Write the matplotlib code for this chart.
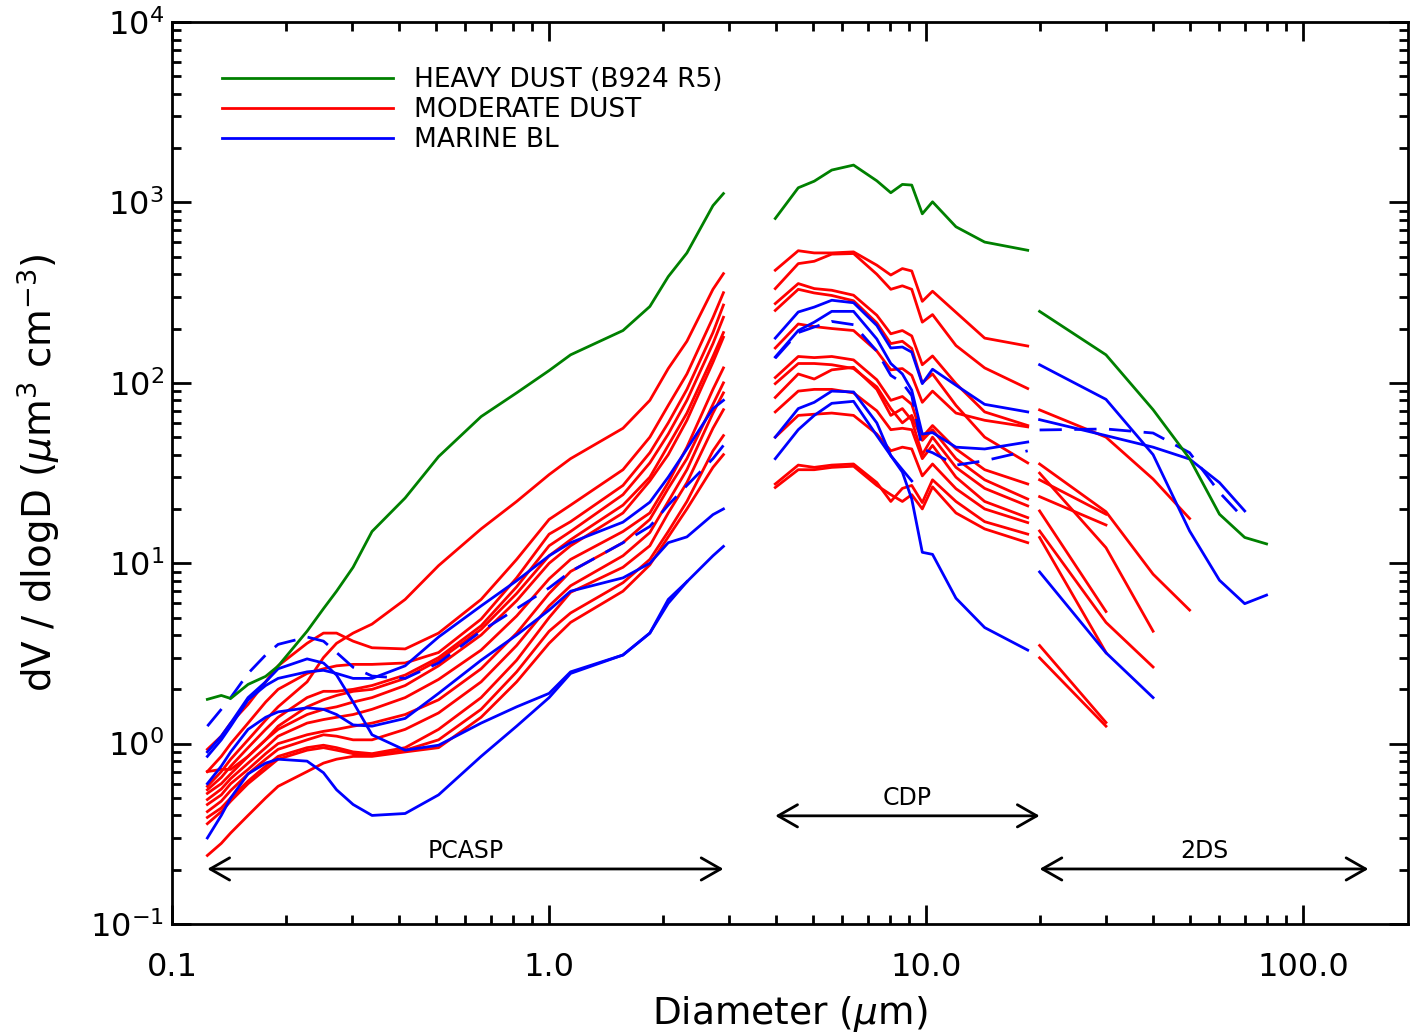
import numpy as np
import matplotlib.pyplot as plt
from matplotlib.lines import Line2D
from matplotlib.ticker import FixedLocator, FixedFormatter, LogLocator, NullFormatter

nan = np.nan
GREEN = '#008000'
RED = '#ff0000'
BLUE = '#0000ff'

# ---- PCASP (0.12 - 3 um) ----
pcasp_d = [0.124, 0.135, 0.143, 0.159, 0.177, 0.191, 0.228, 0.252, 0.273, 0.302, 0.339, 0.415,
           0.509, 0.66, 0.82, 1.0, 1.14, 1.57, 1.85, 2.07, 2.32, 2.72, 2.9]
pcasp_heavy = [1.76, 1.85, 1.78, 2.13, 2.36, 2.69, 4.2, 5.6, 7.0, 9.5, 15, 23,
               39, 65, 88, 117, 143, 195, 265, 388, 525, 960, 1120]
pcasp_moderate = [
    [0.58, 0.7, 0.82, 1.05, 1.35, 1.6, 2.2, 3.0, 3.6, 4.1, 4.6, 6.3, 9.7, 15.5, 22, 31, 38, 56, 80, 120, 170, 330, 403],
    [0.93, 1.1, 1.3, 1.65, 2.2, 2.7, 3.6, 4.1, 4.1, 3.7, 3.4, 3.35, 4.1, 6.3, 10.5, 17.5, 21, 33, 50, 75, 112, 230, 316],
    [0.70, 0.85, 1.0, 1.3, 1.7, 2.0, 2.45, 2.6, 2.7, 2.75, 2.75, 2.8, 3.2, 4.9, 8.3, 14.5, 17, 27, 41, 60, 92, 190, 270],
    [0.555, 0.65, 0.75, 0.95, 1.2, 1.4, 1.8, 1.95, 1.95, 2.0, 2.1, 2.4, 3.0, 4.5, 7.4, 12.5, 15, 24, 36, 52, 80, 165, 231],
    [0.70, 0.72, 0.72, 0.85, 1.05, 1.25, 1.6, 1.75, 1.85, 1.95, 2.0, 2.3, 2.9, 4.3, 6.8, 11, 13.5, 21, 30, 45, 68, 140, 190],
    [0.53, 0.6, 0.68, 0.85, 1.05, 1.2, 1.45, 1.55, 1.6, 1.7, 1.8, 2.1, 2.7, 4.0, 6.2, 10, 12.5, 19, 28.6, 40, 62, 130, 179],
    [0.49, 0.56, 0.64, 0.78, 0.95, 1.1, 1.3, 1.36, 1.4, 1.45, 1.55, 1.8, 2.27, 3.3, 5.1, 8.2, 10.5, 15, 19, 28, 44, 92, 121],
    [0.46, 0.52, 0.6, 0.72, 0.88, 1.0, 1.12, 1.17, 1.2, 1.25, 1.3, 1.45, 1.75, 2.6, 4.1, 6.8, 9, 13, 17.5, 26, 38, 76, 100],
    [0.42, 0.48, 0.55, 0.68, 0.82, 0.93, 1.05, 1.12, 1.1, 1.05, 1.05, 1.2, 1.48, 2.2, 3.5, 5.8, 7.5, 11, 14.8, 22, 33, 68, 88],
    [0.39, 0.44, 0.5, 0.62, 0.75, 0.85, 0.95, 0.98, 0.95, 0.9, 0.88, 0.95, 1.2, 1.8, 2.9, 5.0, 6.9, 9.5, 12.5, 19, 28, 56, 71],
    [0.36, 0.42, 0.48, 0.6, 0.72, 0.82, 0.92, 0.95, 0.92, 0.88, 0.86, 0.92, 1.05, 1.55, 2.5, 4.2, 5.3, 7.8, 10.5, 15, 22, 42, 51],
    [0.24, 0.28, 0.32, 0.4, 0.5, 0.58, 0.7, 0.78, 0.82, 0.85, 0.85, 0.9, 0.95, 1.4, 2.2, 3.6, 4.7, 7, 9.8, 14, 20, 34, 40],
]
pcasp_marine = [
    [0.9, 1.1, 1.3, 1.8, 2.2, 2.6, 2.95, 2.8, 2.4, 1.7, 1.12, 0.92, 0.98, 1.3, 1.6, 1.9, 2.5, 3.1, 4.1, 6.0, 7.9, nan, nan],
    [0.85, 1.05, 1.25, 1.75, 2.1, 2.3, 2.5, 2.55, 2.45, 2.3, 2.3, 2.7, 3.9, 5.8, 8.0, 11, 13, 16.9, 21.8, 30, 43, 72, 80],
    [0.6, 0.75, 0.9, 1.2, 1.4, 1.5, 1.58, 1.55, 1.45, 1.27, 1.25, 1.38, 1.9, 2.9, 4.0, 5.5, 7.0, 8.3, 10, 13, 14, 18.6, 20],
    [0.3, 0.4, 0.5, 0.68, 0.78, 0.82, 0.8, 0.69, 0.555, 0.46, 0.40, 0.41, 0.52, 0.85, 1.25, 1.8, 2.45, 3.1, 4.1, 6.3, 7.9, 11, 12.4],
]
pcasp_marine_mean = [1.25, 1.55, 1.8, 2.45, 3.1, 3.55, 3.9, 3.7, 3.2, 2.65, 2.37, 2.3,
                     2.8, 4.2, 5.6, 7.3, 9.0, 13, 16, 21, 27, 38, 45]

# ---- CDP (4 - 19 um) ----
cdp_d = [3.98, 4.58, 5.05, 5.62, 6.42, 7.40, 8.06, 8.65, 9.16, 9.77, 10.4, 12.0, 14.3, 18.6]
cdp_heavy = [815, 1206, 1312, 1512, 1611, 1318, 1132, 1259, 1248, 865, 1008, 733, 603, 543]
cdp_moderate = [
    [421, 540, 525, 525, 532, 449, 396, 430, 417, 283, 322, 246, 177, 160],
    [333, 458, 472, 517, 521, 400, 330, 345, 330, 217, 239, 161, 121, 93],
    [275, 355, 333, 326, 306, 237, 187, 195, 182, 126, 141, 99, 69, 58],
    [252, 330, 315, 305, 285, 215, 165, 170, 155, 100, 112, 75, 50, 36],
    [156, 212, 205, 200, 195, 150, 118, 120, 110, 78, 90, 68, 62, 57],
    [107, 140, 138, 140, 134, 104, 80, 84, 76, 50, 58, 43, 33, 27.5],
    [99, 128, 128, 126, 120, 95, 72, 60, 66, 48, 55, 38, 29, 22.7],
    [83, 112, 105, 118, 122, 92, 66, 72, 62, 40, 50, 34, 26, 20.8],
    [69, 90, 92, 92, 88, 70, 55, 56, 55, 38, 45, 30, 22, 17.9],
    [50, 66, 67, 68, 66, 52, 42, 44, 43, 30.5, 35.5, 25.9, 20, 16.8],
    [27.5, 35, 34, 35, 35.5, 28, 22, 26, 27, 21.7, 29, 22, 17, 14.5],
    [26.3, 33, 33, 34, 34.5, 27, 24, 22, 24, 20, 26.5, 19, 15.5, 13],
]
cdp_marine = [
    [177, 247, 263, 287, 278, 208, 156, 158, 148, 99, 119, 97, 76, 69],
    [139, 195, 217, 249, 249, 175, 128, 112, 91, 52, 53, 44, 43, 47],
    [50, 72, 78, 90, 89, 60, 39.5, 32, 22.7, 11.5, 11.2, 6.4, 4.4, 3.3],
    [38, 55, 66, 77, 79, 51, 39.5, 33, 28.6, nan, nan, nan, nan, nan],
]
cdp_marine_mean = [137, 190, 204, 219, 210, 150, 110, 100, 85, 43, 41, 35, 37, 42]

# ---- 2DS (20 - 80 um) ----
tds_d = [20, 30, 40, 50, 60, 70, 80]
tds_heavy = [249, 143, 71, 38, 18.7, 13.9, 12.8]
tds_moderate = [
    [70.8, 50, 29.3, 17.7, nan, nan, nan],
    [35.5, 19.3, 8.7, 5.5, nan, nan, nan],
    [31.6, 12.2, 4.2, nan, nan, nan, nan],
    [29, 18.7, nan, nan, nan, nan, nan],
    [23.4, 16.3, nan, nan, nan, nan, nan],
    [19.5, 5.4, nan, nan, nan, nan, nan],
    [15.1, 4.7, 2.66, nan, nan, nan, nan],
    [13.9, 3.2, nan, nan, nan, nan, nan],
    [3.5, 1.31, nan, nan, nan, nan, nan],
    [2.99, 1.25, nan, nan, nan, nan, nan],
]
tds_marine = [
    [126, 81, 40, 15.1, 8.05, 5.97, 6.66],
    [62.5, 51, 44, 37.8, 28, 19.5, nan],
    [8.95, 3.19, 1.8, nan, nan, nan, nan],
]
tds_marine_mean = [54.8, 55.5, 52.7, 41, 24.7, 17.5, nan]

# instrument ranges for the arrows: (name, left, right, arrow level, label level)
instruments = [('PCASP', 0.124, 2.9, 0.202, 0.217),
               ('CDP', 3.98, 20.0, 0.398, 0.428),
               ('2DS', 20.0, 149.0, 0.202, 0.217)]

plt.rcParams['font.family'] = 'DejaVu Sans'
plt.rcParams['mathtext.fontset'] = 'dejavusans'

fig = plt.figure(figsize=(14.11, 10.35), dpi=100)
ax = fig.add_axes([0.122, 0.1072, 0.876, 0.8715])

lw = 2.0
dash = (0, (8, 4.5))
for d, heavy, moderate, marine, mean in [(pcasp_d, pcasp_heavy, pcasp_moderate, pcasp_marine, pcasp_marine_mean),
                                         (cdp_d, cdp_heavy, cdp_moderate, cdp_marine, cdp_marine_mean),
                                         (tds_d, tds_heavy, tds_moderate, tds_marine, tds_marine_mean)]:
    for v in moderate:
        ax.plot(d, v, color=RED, lw=lw)
    for v in marine:
        ax.plot(d, v, color=BLUE, lw=lw)
    ax.plot(d, mean, color=BLUE, lw=lw, ls=dash)
    ax.plot(d, heavy, color=GREEN, lw=lw)

for name, x0, x1, ya, yt in instruments:
    ax.annotate('', xy=(x1, ya), xytext=(x0, ya),
                arrowprops=dict(arrowstyle='<->,head_length=0.7,head_width=0.4',
                                lw=2, color='k', shrinkA=0, shrinkB=0, mutation_scale=20))
    xm = np.sqrt(x0 * x1)
    ax.text(xm, yt, name, ha='center', va='bottom', fontsize=17)

ax.set_xscale('log')
ax.set_yscale('log')
ax.set_xlim(0.1, 190)
ax.set_ylim(0.1, 1e4)

ax.xaxis.set_major_locator(FixedLocator([0.1, 1, 10, 100]))
ax.xaxis.set_major_formatter(FixedFormatter(['0.1', '1.0', '10.0', '100.0']))
ax.xaxis.set_minor_locator(LogLocator(base=10, subs=np.arange(2, 10)))
ax.xaxis.set_minor_formatter(NullFormatter())
ax.yaxis.set_minor_locator(LogLocator(base=10, subs=np.arange(2, 10)))
ax.yaxis.set_minor_formatter(NullFormatter())

ax.tick_params(which='both', direction='in', top=True, right=True, width=2, colors='k')
ax.tick_params(which='major', length=14)
ax.tick_params(which='minor', length=6.5)
ax.tick_params(axis='x', which='major', labelsize=23, pad=20)
ax.tick_params(axis='y', which='major', labelsize=23, pad=6)
for s in ax.spines.values():
    s.set_linewidth(2)

ax.set_xlabel(r'Diameter ($\mu$m)', fontsize=27)
ax.set_ylabel(r'dV / dlogD ($\mu$m$^3$ cm$^{-3}$)', fontsize=28)
ax.xaxis.set_label_coords(0.5, -0.078)
ax.yaxis.set_label_coords(-0.089, 0.5)

handles = [Line2D([], [], color=GREEN, lw=lw),
           Line2D([], [], color=RED, lw=lw),
           Line2D([], [], color=BLUE, lw=lw)]
labels = ['HEAVY DUST (B924 R5)', 'MODERATE DUST', 'MARINE BL']
ax.legend(handles, labels, loc='upper left', bbox_to_anchor=(0.04, 0.95), frameon=False,
          fontsize=19, handlelength=6.5, handletextpad=0.8, labelspacing=0.15,
          borderpad=0, borderaxespad=0)

fig.savefig('out.png', dpi=100)
